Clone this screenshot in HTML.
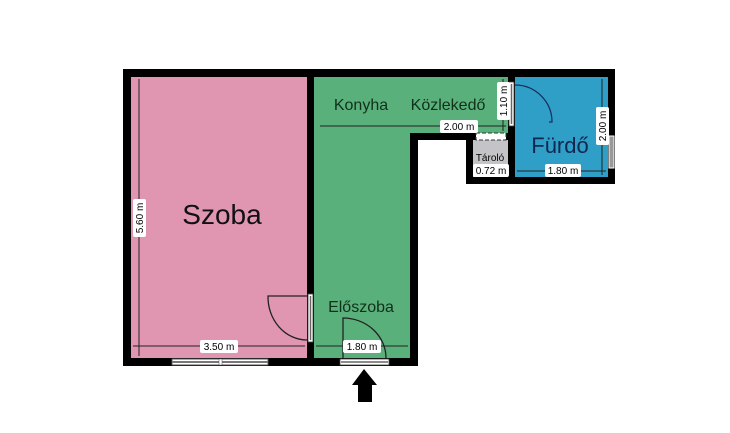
<!DOCTYPE html>
<html><head><meta charset="utf-8"><style>html,body{margin:0;padding:0;background:#fff}svg{display:block}</style></head>
<body>
<svg width="730" height="433" viewBox="0 0 730 433" xmlns="http://www.w3.org/2000/svg" font-family="Liberation Sans, sans-serif">
<rect x="131" y="77" width="176" height="281" fill="#e096b0"/>
<path d="M314 77 H508 V133 H410 V358 H314 Z" fill="#5ab07a"/>
<rect x="515" y="77" width="93" height="100" fill="#2f9fc8"/>
<rect x="473" y="140" width="35" height="37" fill="#c4c4c8"/>
<g fill="#000">
<rect x="123" y="69" width="492" height="8"/>
<rect x="123" y="69" width="8" height="297"/>
<rect x="123" y="358" width="295" height="8"/>
<rect x="307" y="77" width="7" height="281"/>
<rect x="410" y="133" width="8" height="233"/>
<rect x="410" y="133" width="63" height="7"/>
<rect x="466" y="133" width="7" height="51"/>
<rect x="466" y="177" width="149" height="7"/>
<rect x="608" y="69" width="7" height="115"/>
<rect x="508" y="77" width="7" height="107"/>
<rect x="473" y="133" width="35" height="7"/>
</g>
<rect x="476" y="133" width="30" height="7" fill="#fff" stroke="#333" stroke-width="1" stroke-dasharray="4,2"/>
<rect x="172" y="359" width="96" height="6" fill="#fff" stroke="#555"/>
<line x1="172" y1="362" x2="268" y2="362" stroke="#777" stroke-width="2"/>
<rect x="219" y="359" width="3" height="6" fill="#fff" stroke="#555" stroke-width="0.5"/>
<rect x="609" y="136" width="5" height="32" fill="#999" stroke="#fff" stroke-width="1"/>
<rect x="308" y="294" width="5" height="48" fill="#fff" stroke="#444" stroke-width="0.8"/>
<line x1="310.5" y1="296" x2="310.5" y2="340" stroke="#666" stroke-width="1.5"/>
<path d="M307 296 H268 A39 43 0 0 0 307 340" fill="none" stroke="#222" stroke-width="1.3"/>
<rect x="509" y="82" width="5" height="44" fill="#fff" stroke="#444" stroke-width="0.8"/>
<line x1="511.5" y1="84" x2="511.5" y2="124" stroke="#666" stroke-width="1.5"/>
<path d="M515 85 A37 37 0 0 1 552 122 H549" fill="none" stroke="#1a2f5a" stroke-width="1.3"/>
<rect x="340" y="359" width="49" height="6" fill="#fff" stroke="#444" stroke-width="0.8"/>
<line x1="341" y1="362" x2="388" y2="362" stroke="#666" stroke-width="1.5"/>
<path d="M343 358 V318 A43 40 0 0 1 386 358" fill="none" stroke="#222" stroke-width="1.3"/>
<path d="M364 369 L377 385 H372 V402 H358 V385 H352 Z" fill="#000"/>
<g stroke="#222" stroke-width="1" fill="none">
<line x1="139" y1="79" x2="139" y2="356"/>
<line x1="133" y1="346" x2="305" y2="346"/>
<line x1="316" y1="346" x2="408" y2="346"/>
<line x1="320" y1="126" x2="506" y2="126"/>
<line x1="503" y1="79" x2="503" y2="131"/>
<line x1="517" y1="171" x2="606" y2="171"/>
<line x1="602" y1="79" x2="602" y2="175"/>
</g>
<g font-size="10" fill="#000" text-anchor="middle">
<rect x="200" y="340" width="38" height="13" fill="#fff" rx="2"/><text x="219" y="350">3.50 m</text>
<rect x="343" y="340" width="38" height="13" fill="#fff" rx="2"/><text x="362" y="350">1.80 m</text>
<rect x="440" y="120" width="38" height="13" fill="#fff" rx="2"/><text x="459" y="130">2.00 m</text>
<rect x="473" y="164" width="36" height="13" fill="#fff" rx="2"/><text x="491" y="174">0.72 m</text>
<rect x="545" y="164" width="36" height="13" fill="#fff" rx="2"/><text x="563" y="174">1.80 m</text>
<rect x="497" y="82" width="13" height="38" fill="#fff" rx="2"/><text transform="translate(507 101) rotate(-90)">1.10 m</text>
<rect x="596" y="107" width="13" height="38" fill="#fff" rx="2"/><text transform="translate(606 126) rotate(-90)">2.00 m</text>
<rect x="133" y="199" width="13" height="38" fill="#fff" rx="2"/><text transform="translate(143 218) rotate(-90)">5.60 m</text>
<text x="490" y="161" font-size="10">Tároló</text>
</g>
<text x="222" y="224" font-size="28" text-anchor="middle" fill="#111">Szoba</text>
<text x="361" y="110" font-size="16" text-anchor="middle" fill="#10301c">Konyha</text>
<text x="448" y="110" font-size="16" text-anchor="middle" fill="#10301c">Közlekedő</text>
<text x="361" y="312" font-size="16" text-anchor="middle" fill="#10301c">Előszoba</text>
<text x="560" y="153" font-size="22" text-anchor="middle" fill="#102850">Fürdő</text>
</svg>
</body></html>
